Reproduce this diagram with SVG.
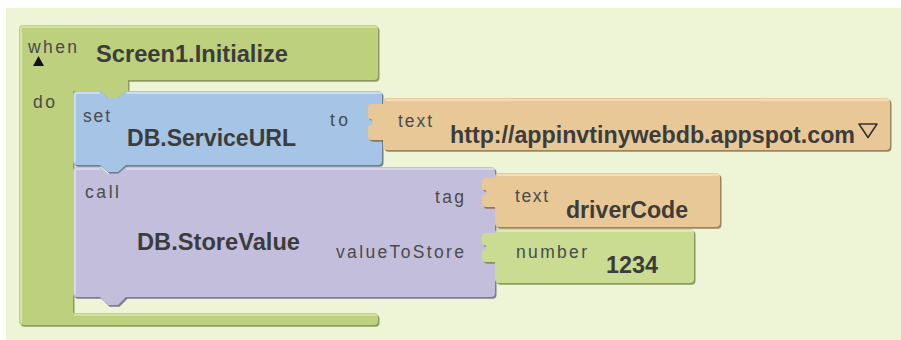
<svg xmlns="http://www.w3.org/2000/svg" xmlns:xlink="http://www.w3.org/1999/xlink" width="901" height="340" viewBox="0 0 901 340">
<style>
.lbl{font-family:"Liberation Sans",Arial,sans-serif;font-size:17.5px;fill:#4a4a4a}
.big{font-family:"Liberation Sans",Arial,sans-serif;font-size:23px;font-weight:bold;fill:#3c3c3c}
.sh{opacity:0.75}
.hl{fill:none;stroke-width:1.6;stroke-linecap:round}
</style>
<defs>
<path id="p-when" d="M23,25 H374 Q378,25 378,29 V76 Q378,80 374,80 H128 V91 H126 L118,98 H108 L100,91 H73 V313 H374 Q378,313 378,317 V321 Q378,325 374,325 H23 Q19,325 19,321 V29 Q19,25 23,25 Z"/>
<path id="p-set" d="M77,91 H100 L108,98 H118 L126,91 H378 Q382,91 382,95 V161 Q382,165 378,165 H126 L118,172 H108 L100,165 H77 Q73,165 73,161 V95 Q73,91 77,91 Z"/>
<path id="p-url" d="M387,98 H886 Q890,98 890,102 V146 Q890,150 886,150 H387 Q383,150 383,146 V140 H372 Q368,140 368,136 V128 Q368,125 371,125 Q374,122 371,119 Q368,119 368,116 V108 Q368,104 372,104 H383 V102 Q383,98 387,98 Z"/>
<path id="p-call" d="M77,167 H100 L108,174 H118 L126,167 H491 Q495,167 495,171 V293 Q495,297 491,297 H126 L118,305 H108 L100,297 H77 Q73,297 73,293 V171 Q73,167 77,167 Z"/>
<path id="p-tag" d="M499,173 H716 Q720,173 720,177 V223 Q720,227 716,227 H499 Q495,227 495,223 V207 H486 Q482,207 482,203 V197 Q482,195 485,195 Q488,192.5 485,190 Q482,190 482,188 V182 Q482,178 486,178 H495 V177 Q495,173 499,173 Z"/>
<path id="p-num" d="M499,229 H690 Q694,229 694,233 V279 Q694,283 690,283 H499 Q495,283 495,279 V262 H486 Q482,262 482,258 V252 Q482,250 485,250 Q488,247.5 485,245 Q482,245 482,243 V237 Q482,233 486,233 H495 V233 Q495,229 499,229 Z"/>
</defs>
<rect x="6" y="8" width="895" height="332" fill="#eef5d6"/>

<g id="node-when">
<use xlink:href="#p-when" class="sh" fill="#6b7d3a" transform="translate(1.5,1.8)"/>
<use xlink:href="#p-when" fill="#bdd07e"/>
<path class="hl" stroke="#d9e6ad" d="M22,27 H376 M21,28 V322 M75,315 H376"/>
<text class="lbl" x="28" y="53" textLength="49" lengthAdjust="spacing">when</text>
<polygon points="38.5,56 44,66 33,66" fill="#111"/>
<text class="big" x="96" y="62" textLength="192" lengthAdjust="spacingAndGlyphs">Screen1.Initialize</text>
<text class="lbl" x="33" y="108" textLength="22" lengthAdjust="spacing">do</text>
</g>

<g id="node-set">
<use xlink:href="#p-set" class="sh" fill="#3f5878" transform="translate(1.5,1.8)"/>
<use xlink:href="#p-set" fill="#a5c4e6"/>
<path class="hl" stroke="#d3e4f6" d="M76,93 H99 M127,93 H380 M75,94 V162"/>
<text class="lbl" x="83" y="122" textLength="27" lengthAdjust="spacing">set</text>
<text class="big" x="127" y="146" textLength="169" lengthAdjust="spacingAndGlyphs">DB.ServiceURL</text>
<text class="lbl" x="330" y="126" textLength="18" lengthAdjust="spacing">to</text>
</g>

<g id="node-url">
<use xlink:href="#p-url" class="sh" fill="#7d5f33" transform="translate(1.5,1.8)"/>
<use xlink:href="#p-url" fill="#e8c896"/>
<path class="hl" stroke="#f7e2bf" d="M386,100 H888"/>
<text class="lbl" x="398" y="127" textLength="34" lengthAdjust="spacing">text</text>
<text class="big" x="450" y="143" textLength="405" lengthAdjust="spacingAndGlyphs">http://appinvtinywebdb.appspot.com</text>
<polygon points="859,124 877,124 868,137.5" fill="none" stroke="#333" stroke-width="1.6" stroke-linejoin="round"/>
</g>

<g id="node-call">
<use xlink:href="#p-call" class="sh" fill="#585272" transform="translate(1.5,1.8)"/>
<use xlink:href="#p-call" fill="#c3bedc"/>
<path class="hl" stroke="#e0dcf0" d="M76,169 H99 M127,169 H493 M75,170 V294"/>
<text class="lbl" x="85" y="198" textLength="34" lengthAdjust="spacing">call</text>
<text class="big" x="137" y="250" textLength="163" lengthAdjust="spacingAndGlyphs">DB.StoreValue</text>
<text class="lbl" x="464" y="203" text-anchor="end" textLength="29" lengthAdjust="spacing">tag</text>
<text class="lbl" x="464" y="258" text-anchor="end" textLength="128" lengthAdjust="spacing">valueToStore</text>
</g>

<g id="node-tag">
<use xlink:href="#p-tag" class="sh" fill="#7d5f33" transform="translate(1.5,1.8)"/>
<use xlink:href="#p-tag" fill="#e8c896"/>
<path class="hl" stroke="#f7e2bf" d="M498,175 H718"/>
<text class="lbl" x="515" y="202" textLength="33" lengthAdjust="spacing">text</text>
<text class="big" x="566" y="218" textLength="122" lengthAdjust="spacingAndGlyphs">driverCode</text>
</g>

<g id="node-num">
<use xlink:href="#p-num" class="sh" fill="#6b7d3a" transform="translate(1.5,1.8)"/>
<use xlink:href="#p-num" fill="#c9dc92"/>
<path class="hl" stroke="#e4eec4" d="M498,231 H692"/>
<text class="lbl" x="516" y="258" textLength="71" lengthAdjust="spacing">number</text>
<text class="big" x="606" y="273" textLength="52" lengthAdjust="spacingAndGlyphs">1234</text>
</g>

<g id="connectors"></g>
</svg>
